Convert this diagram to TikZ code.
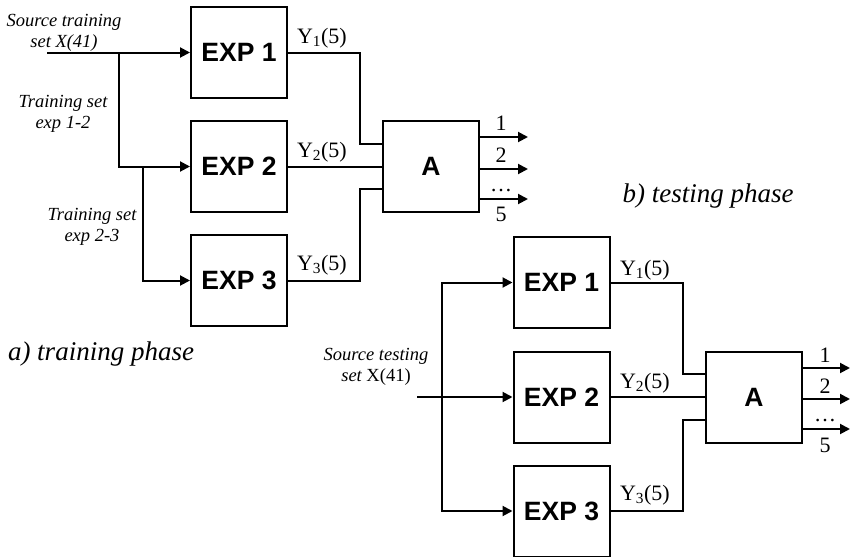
\documentclass[tikz,border=0pt]{standalone}
\usepackage{fontspec}
\setmainfont{Liberation Serif}
\setsansfont{Liberation Sans}
\usetikzlibrary{arrows.meta,calc}
\begin{document}
\begin{tikzpicture}[x=1pt,y=-1pt,line width=2pt,
  box/.style={draw,line width=2pt,minimum width=96pt,minimum height=91pt,inner sep=0pt,
    font=\sffamily\bfseries\fontsize{26.5}{30}\selectfont},
  arr/.style={-{Triangle[length=10pt,width=10pt]}},
  lab/.style={font=\itshape\fontsize{18.5}{21}\selectfont,align=center,inner sep=0pt},
  ylab/.style={font=\fontsize{22}{24}\selectfont,inner sep=0pt,anchor=west},
  num/.style={font=\fontsize{22}{24}\selectfont,inner sep=0pt},
  phase/.style={font=\itshape\fontsize{27}{30}\selectfont,inner sep=0pt,anchor=base}]
\useasboundingbox (0,0) rectangle (852,557);

% ---------- a) training phase ----------
\node[box] (e1a) at (239,52.5) {EXP 1};
\node[box] (e2a) at (239,166.5) {EXP 2};
\node[box] (e3a) at (239,280.5) {EXP 3};
\node[box] (Aa) at (431,166.5) {A};

\coordinate (sa) at (47,52.5);
\coordinate (ba1) at (119,52.5);
\coordinate (ba2) at (143,166.5);
\draw[arr] (sa) -- (e1a.west);
\draw[arr] (ba1) |- (e2a.west);
\draw[arr] (ba2) |- (e3a.west);

\draw (e1a.east) -- ++(72,0) |- ([yshift=22.5pt]Aa.west);
\draw (e2a.east) -- (Aa.west);
\draw (e3a.east) -- ++(72,0) |- ([yshift=-22.5pt]Aa.west);

\coordinate (oa1) at ([xshift=48pt,yshift=29.5pt]Aa.east);
\coordinate (oa2) at ([xshift=48pt,yshift=-2.5pt]Aa.east);
\coordinate (oa3) at ([xshift=48pt,yshift=-32.5pt]Aa.east);
\draw[arr] ([yshift=29.5pt]Aa.east) -- (oa1);
\draw[arr] ([yshift=-2.5pt]Aa.east) -- (oa2);
\draw[arr] ([yshift=-32.5pt]Aa.east) -- (oa3);

\node[num] (na1) at (501,123) {1};
\node[num] (na2) at (501,155) {2};
\node[num,anchor=base] (na3) at (501,191) {\char"2026};
\node[num] (na5) at (501,214) {5};

\node[ylab] (ya1) at (296,38) {Y\textsubscript{1}(5)};
\node[ylab] (ya2) at (296,152) {Y\textsubscript{2}(5)};
\node[ylab] (ya3) at (296,265) {Y\textsubscript{3}(5)};

\node[lab] (la1) at (64,33) {Source training\\set X(41)};
\node[lab] (la2) at (63,113.5) {Training set\\exp 1-2};
\node[lab] (la3) at (92,226.5) {Training set\\exp 2-3};

\node[phase] (pa) at (101,360) {a) training phase};

% ---------- b) testing phase ----------
\node[box] (e1b) at (561.5,282.5) {EXP 1};
\node[box] (e2b) at (561.5,397) {EXP 2};
\node[box] (e3b) at (561.5,511) {EXP 3};
\node[box] (Ab) at (754,397) {A};

\coordinate (sb) at (417,397);
\coordinate (bb) at (442,397);
\draw[arr] (sb) -- (e2b.west);
\draw[arr] (bb) |- (e1b.west);
\draw[arr] (bb) |- (e3b.west);

\draw (e1b.east) -- ++(72,0) |- ([yshift=23pt]Ab.west);
\draw (e2b.east) -- (Ab.west);
\draw (e3b.east) -- ++(72,0) |- ([yshift=-23pt]Ab.west);

\coordinate (ob1) at ([xshift=47pt,yshift=29pt]Ab.east);
\coordinate (ob2) at ([xshift=47pt,yshift=-2pt]Ab.east);
\coordinate (ob3) at ([xshift=47pt,yshift=-32pt]Ab.east);
\draw[arr] ([yshift=29pt]Ab.east) -- (ob1);
\draw[arr] ([yshift=-2pt]Ab.east) -- (ob2);
\draw[arr] ([yshift=-32pt]Ab.east) -- (ob3);

\node[num] (nb1) at (825,355) {1};
\node[num] (nb2) at (825,386) {2};
\node[num,anchor=base] (nb3) at (825,421) {\char"2026};
\node[num] (nb5) at (825,445) {5};

\node[ylab] (yb1) at (619,270) {Y\textsubscript{1}(5)};
\node[ylab] (yb2) at (619,383) {Y\textsubscript{2}(5)};
\node[ylab] (yb3) at (619,495) {Y\textsubscript{3}(5)};

\node[lab] (lb) at (376,367) {Source testing\\set \upshape X(41)};

\node[phase] (pb) at (708,202) {b) testing phase};
\end{tikzpicture}
\end{document}
